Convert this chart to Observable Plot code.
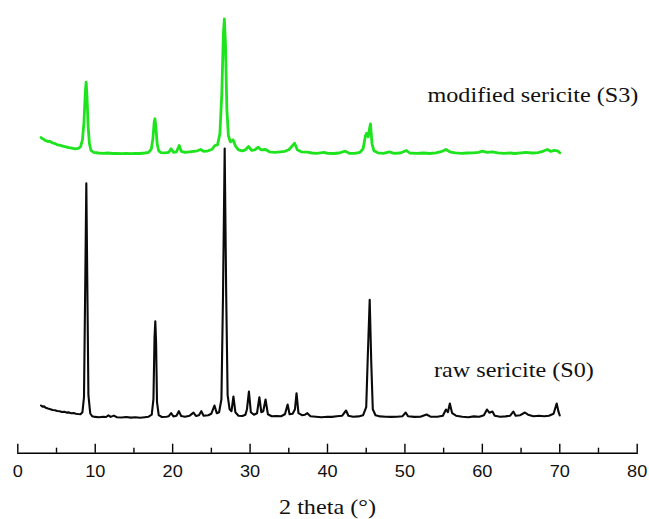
<!DOCTYPE html>
<html>
<head>
<meta charset="utf-8">
<script src="https://cdn.jsdelivr.net/npm/d3@7"></script>
<script src="https://cdn.jsdelivr.net/npm/@observablehq/plot@0.6"></script>
<style>
  body { margin: 0; background: #fff; }
  #chart { width: 649px; height: 519px; }
</style>
</head>
<body>
<div id="chart"></div>
<script>
// ---- Data (2θ in degrees, intensity in a.u.) ----
const s0Theta = [3.0,3.2,3.4,3.6,3.9,4.2,4.5,4.8,5.1,5.4,5.7,6.0,6.3,6.6,6.9,7.2,7.5,7.8,8.1,8.35,8.55,8.72,8.85,8.97,9.12,9.35,9.6,10.0,10.5,11.0,11.4,11.7,12.0,12.4,12.8,13.4,14.0,14.6,15.2,15.8,16.4,16.9,17.3,17.52,17.66,17.76,17.86,17.98,18.2,18.6,19.2,19.5,19.8,20.1,20.5,20.8,21.1,21.6,22.2,22.7,23.0,23.4,23.7,24.0,24.6,25.0,25.4,25.7,26.0,26.3,26.5,26.72,26.92,27.1,27.35,27.6,27.85,28.1,28.5,29.0,29.4,29.6,29.85,30.1,30.5,30.9,31.2,31.45,31.7,32.0,32.3,32.8,33.4,34.0,34.5,34.85,35.1,35.5,35.8,36.0,36.25,36.7,37.1,37.4,37.8,38.5,39.2,40.0,40.6,41.2,41.9,42.4,42.7,43.3,44.0,44.6,45.0,45.2,45.45,45.65,45.85,46.2,46.8,47.5,48.2,49.0,49.7,50.1,50.4,51.2,52.0,52.8,53.3,54.2,54.9,55.3,55.55,55.8,56.1,56.6,57.4,58.2,58.9,59.6,60.2,60.6,60.9,61.3,61.6,62.3,63.0,63.6,64.0,64.3,64.9,65.5,65.9,66.6,67.3,68.0,68.6,69.2,69.6,69.85,70.0];
const s0Intensity = [11.7,10.5,10.8,9.4,8.6,8.0,7.2,7.0,6.2,6.0,5.2,5.4,4.6,4.8,4.0,4.2,3.5,3.2,3.0,5,20,140,234,140,22,4,1,0.3,0,0.4,0.2,1.8,0.3,1.6,0,-0.3,0.2,-0.4,0,-0.5,0,0.5,2.5,18,80,96,75,15,2,0.2,0.5,1,4,0.8,1.5,6,1.2,0.5,1.5,4.5,1.2,2,6,1.5,2,3.5,11.7,4,5,18,120,268.7,120,22,8,6,20.7,5,1.5,1.2,2.5,8,25.7,5,2.5,4,20,5,6,17.7,3,1,1.2,1,3,12.7,3,3.5,8,24,4,2,2.5,4,1,0.5,0,0.5,0.3,1,1.5,6.7,1.5,0.5,0.8,2,10,60,117.4,55,8,2,0.8,0.5,0.3,0.5,1,4.7,1,0.3,0.5,2.7,0.6,0.5,1.5,7.7,5,13.7,4,1.5,0.5,0,0.8,0.5,2,7.7,4.5,5.7,1.5,0.5,0.8,1.5,5.7,1.5,2,4.7,2.5,1,1.5,1,1.5,3.5,13.7,5,1.7];

const s3Theta = [3.0,3.15,3.3,3.5,3.7,3.9,4.1,4.3,4.5,4.8,5.1,5.4,5.8,6.2,6.6,7.0,7.4,7.8,8.1,8.35,8.55,8.72,8.83,8.95,9.08,9.25,9.45,9.8,10.4,11.0,11.6,12.2,12.8,13.4,14.0,14.6,15.2,15.8,16.4,16.9,17.25,17.45,17.62,17.72,17.85,18.0,18.2,18.5,19.0,19.5,19.8,20.1,20.5,20.85,21.1,21.6,22.2,22.7,23.2,23.6,24.0,24.6,25.1,25.45,25.8,26.1,26.35,26.55,26.68,26.82,27.0,27.2,27.45,27.8,28.1,28.5,29.0,29.4,29.8,30.2,30.6,31.05,31.4,32.0,32.5,33.2,33.9,34.5,35.0,35.3,35.75,36.1,36.6,37.4,38.0,38.6,39.1,39.55,40.0,40.8,41.5,42.3,42.8,43.5,44.2,44.6,44.9,45.05,45.25,45.45,45.55,45.75,46.0,46.5,47.2,48.0,48.6,49.4,50.2,50.6,51.5,52.4,53.2,54.0,54.8,55.3,55.8,56.5,57.3,58.0,58.8,59.5,60.0,60.6,61.3,62.0,62.8,63.6,64.2,65.0,65.6,66.4,67.2,67.8,68.4,68.8,69.3,69.7,70.0];
const s3Intensity = [16.3,15.2,14.8,13.5,13.0,12.2,12.6,11.8,10.8,10.2,9.0,8.6,7.6,7.0,6.2,5.6,5.0,5.4,7,14,32,62,71.6,55,28,10,3.5,1.5,0.8,0.5,0.8,0.3,0.5,0.2,0.5,0.2,0.4,0.3,0.8,1.5,5,15,32,35,26,10,3,1.2,1,1.5,5,1.5,2,8.3,2.5,1.5,2,2.5,3,4.3,2.5,3,4.5,8.3,9,20,60,120,135,110,45,18,12,14,8,4,3,4,7.3,3.5,4,6.6,4,4.3,2,1.5,2,2.5,4,6.6,10.6,4,2,1.6,0.8,0.5,1,1.5,0.5,0.3,0.8,2.6,0.5,0.5,1.5,5,18,20.6,17,26,30,10,3,1,0.5,2,0.5,0.8,3.3,0.8,0.5,0.8,0.3,1,2.5,4.3,2,1,0.5,0.8,1,1.5,2.6,1.5,2,1,0.5,0.8,0.3,1,1.5,0.8,1.2,2.5,4.3,2.5,3.5,3,1];
const s3Offset = 263.4; // vertical stacking offset of the modified pattern

const majorTicks = [0, 10, 20, 30, 40, 50, 60, 70, 80];
const minorTicks = [5, 15, 25, 35, 45, 55, 65, 75];
const seriesLabels = ["raw sericite (S0)", "modified sericite (S3)"];
const xTitle = "2 theta (°)";

// ---- Build tables ----
const s0Rows = s0Theta.map((t, i) => ({theta: t, value: s0Intensity[i]}));
const s3Rows = s3Theta.map((t, i) => ({theta: t, value: s3Intensity[i] + s3Offset}));
const labelRows = [
  {text: seriesLabels[1], theta: 52.9, value: 322.6},
  {text: seriesLabels[0], theta: 53.75, value: 47.1}
];

const serif = "'Liberation Serif', 'Times New Roman', serif";
const sans = "'Liberation Sans', Arial, sans-serif";

const chart = Plot.plot({
  width: 649,
  height: 519,
  marginLeft: 17.3,
  marginRight: 12.3,
  marginTop: 0,
  marginBottom: 66.3,
  style: {fontFamily: sans, fontSize: "16.5px", background: "#fff", color: "#000", overflow: "visible"},
  x: {domain: [0, 80], label: null},
  y: {domain: [-36, 416.7], axis: null, label: null},
  marks: [
    Plot.frame({anchor: "bottom", stroke: "#000", strokeWidth: 1.4}),
    Plot.axisX(majorTicks, {tickSize: -9, tickFormat: () => "", strokeWidth: 1.4, label: null}),
    Plot.axisX(minorTicks, {tickSize: -5, tickFormat: () => "", strokeWidth: 1.4, label: null}),
    Plot.axisX(majorTicks, {tickSize: 0, tickPadding: 11.8, tickFormat: d => String(d), fill: "#111", label: null, ariaLabel: "tick-labels"}),
    Plot.line(s3Rows, {x: "theta", y: "value", stroke: "#1de41d", strokeWidth: 2.8, strokeLinejoin: "round"}),
    Plot.line(s0Rows, {x: "theta", y: "value", stroke: "#0a0a0a", strokeWidth: 2.1, strokeLinejoin: "round"}),
    Plot.text(labelRows, {x: "theta", y: "value", text: "text", textAnchor: "start", lineAnchor: "middle", fontFamily: serif, fontSize: 22, fill: "#111", ariaLabel: "series-labels"}),
    Plot.text([xTitle], {frameAnchor: "bottom", text: d => d, dy: 54.2, lineAnchor: "middle", fontFamily: serif, fontSize: 22, fill: "#111", ariaLabel: "x-title"})
  ]
});

document.getElementById("chart").append(chart);

// The reference artwork is slightly stretched horizontally; widen the text glyphs to match.
const stretch = {"series-labels": 1.1, "x-title": 1.05};
chart.querySelectorAll("text").forEach(t => {
  if (!t.textContent) return;
  const g = t.closest("g[aria-label]");
  const key = g ? g.getAttribute("aria-label") : "";
  const k = stretch[key] || 1.1;
  const w = t.getComputedTextLength();
  t.setAttribute("textLength", (w * k).toFixed(2));
  t.setAttribute("lengthAdjust", "spacingAndGlyphs");
});
</script>
</body>
</html>
